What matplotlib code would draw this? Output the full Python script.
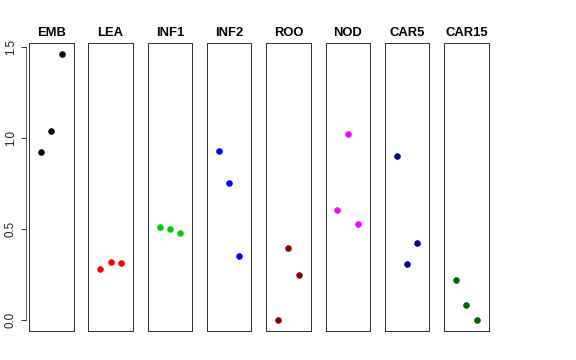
import matplotlib
matplotlib.use("Agg")
import matplotlib.pyplot as plt

# panel names and colours
groups = ["EMB", "LEA", "INF1", "INF2", "ROO", "NOD", "CAR5", "CAR15"]
colors = ["#000000", "#FF0000", "#00CD00", "#0000FF", "#8B0000", "#FF00FF", "#00008B", "#006400"]

# three samples per group, plotted at x = 1, 2, 3
x_pos = [1, 2, 3]
emb = [0.925, 1.040, 1.458]
lea = [0.281, 0.321, 0.312]
inf1 = [0.511, 0.500, 0.476]
inf2 = [0.927, 0.752, 0.352]
roo = [0.000, 0.398, 0.250]
nod = [0.606, 1.020, 0.529]
car5 = [0.901, 0.310, 0.425]
car15 = [0.221, 0.082, 0.000]
values = [emb, lea, inf1, inf2, roo, nod, car5, car15]

y_ticks = [0.0, 0.5, 1.0, 1.5]

plt.rcParams["font.family"] = ["Liberation Sans", "DejaVu Sans"]

W, H = 576, 360
fig = plt.figure(figsize=(W / 72, H / 72), dpi=72)

left0, step, pw = 29, 59.3, 44.5
top, bottom = 43.3, 331

for i, (name, col, vals) in enumerate(zip(groups, colors, values)):
    ax = fig.add_axes([(left0 + i * step) / W, (H - bottom) / H, pw / W, (bottom - top) / H])
    ax.plot(x_pos, vals, "o", color=col, markersize=5.5, linestyle="none")
    ax.set_xlim(-0.16, 4.16)
    ax.set_ylim(-0.0584, 1.5184)
    ax.set_xticks([])
    ax.set_yticks([])
    for s in ax.spines.values():
        s.set_color("#333333")
        s.set_linewidth(1.0)
    ax.set_title(name, fontsize=13, fontweight="bold", pad=7)

    if i == 0:
        sec = ax.secondary_yaxis(-3 / pw)
        sec.set_yticks(y_ticks)
        sec.set_yticklabels([f"{v:.1f}" for v in y_ticks], rotation=90, va="center", fontsize=11.5)
        sec.spines["left"].set_bounds(0, 1.5)
        sec.spines["left"].set_color("#333333")
        sec.tick_params(axis="y", length=5, width=1, colors="#333333", labelcolor="#222222", pad=4)

fig.savefig("out.png", dpi=72)
